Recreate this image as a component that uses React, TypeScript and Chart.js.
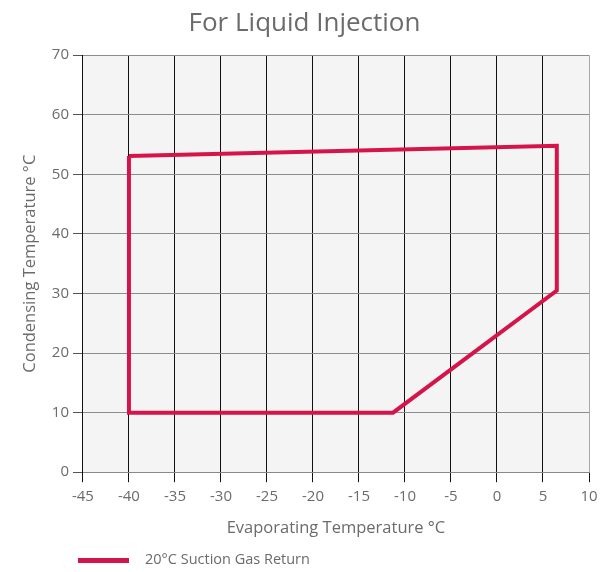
import React, { useEffect, useRef } from "react";
import { Chart, registerables } from "chart.js";
Chart.register(...registerables);

const seriesLabel = "20°C Suction Gas Return";
const envelopeX = [-40, 6.5, 6.5, -11.3, -40, -40];
const envelopeY = [53.1, 54.8, 30.5, 10, 10, 53.1];
const xTicks = [-45, -40, -35, -30, -25, -20, -15, -10, -5, 0, 5, 10];
const yTicks = [0, 10, 20, 30, 40, 50, 60, 70];

const RED = "#d5144b";
const TEXT = "#6b6b6b";
const FONT = "'Open Sans', 'Noto Sans', sans-serif";

const bgPlugin = {
  id: "plotBg",
  beforeDraw(chart: any) {
    const { ctx, chartArea } = chart;
    if (!chartArea) return;
    ctx.save();
    ctx.fillStyle = "#f4f4f4";
    ctx.fillRect(chartArea.left, chartArea.top, chartArea.right - chartArea.left, chartArea.bottom - chartArea.top);
    ctx.restore();
  },
};

const legendPlugin = {
  id: "customLegend",
  afterDraw(chart: any) {
    const { ctx } = chart;
    const ds = chart.data.datasets[0];
    ctx.save();
    ctx.fillStyle = ds.borderColor;
    ctx.fillRect(78, 558, 51, 5);
    ctx.fillStyle = TEXT;
    ctx.font = `14.5px ${FONT}`;
    ctx.textBaseline = "middle";
    ctx.textAlign = "left";
    ctx.fillText(ds.label, 145, 560);
    ctx.restore();
  },
};

export default function App() {
  const ref = useRef<HTMLCanvasElement>(null);
  useEffect(() => {
    if (!ref.current) return;
    const chart = new Chart(ref.current, {
      type: "scatter",
      data: {
        datasets: [
          {
            label: seriesLabel,
            data: envelopeX.map((x, i) => ({ x, y: envelopeY[i] })),
            showLine: true,
            borderColor: RED,
            backgroundColor: RED,
            borderWidth: 4,
            pointRadius: 0,
            borderJoinStyle: "miter",
          } as any,
        ],
      },
      options: {
        animation: false,
        responsive: false,
        layout: { padding: { left: 20, right: 18, top: 0, bottom: 26 } },
        plugins: {
          title: {
            display: true,
            text: "For Liquid Injection",
            color: TEXT,
            font: { family: FONT, size: 26, weight: "normal" },
            padding: { top: 8, bottom: 16 },
          },
          legend: { display: false },
          tooltip: { enabled: false },
        },
        scales: {
          x: {
            type: "linear",
            min: -45,
            max: 10,
            afterBuildTicks: (s: any) => { s.ticks = xTicks.map((v) => ({ value: v })); },
            ticks: { color: TEXT, font: { family: FONT, size: 15 }, padding: 6 },
            grid: {
              color: (c: any) => (c.tick && c.tick.value === 10 ? "#aaaaaa" : "#111111"),
              tickColor: "#111111",
              tickLength: 10,
              lineWidth: 1,
            },
            border: { color: "#888888" },
            title: {
              display: true,
              text: "Evaporating Temperature °C",
              color: TEXT,
              font: { family: FONT, size: 16.5 },
              padding: { top: 6, bottom: 8 },
            },
          },
          y: {
            type: "linear",
            min: 0,
            max: 70,
            afterBuildTicks: (s: any) => { s.ticks = yTicks.map((v) => ({ value: v })); },
            ticks: { color: TEXT, font: { family: FONT, size: 15 }, padding: 4 },
            grid: {
              color: "#8c8c8c",
              tickColor: "#555555",
              tickLength: 10,
              lineWidth: 1,
            },
            border: { color: "#111111" },
            title: {
              display: true,
              text: "Condensing Temperature °C",
              color: TEXT,
              font: { family: FONT, size: 16.5 },
              padding: { top: 0, bottom: 8 },
            },
          },
        },
      },
      plugins: [bgPlugin, legendPlugin],
    });
    return () => chart.destroy();
  }, []);
  return (
    <div style={{ position: "fixed", left: 0, top: 0, width: 607, height: 572, background: "#fff" }}>
      <canvas ref={ref} width={607} height={572} />
    </div>
  );
}
